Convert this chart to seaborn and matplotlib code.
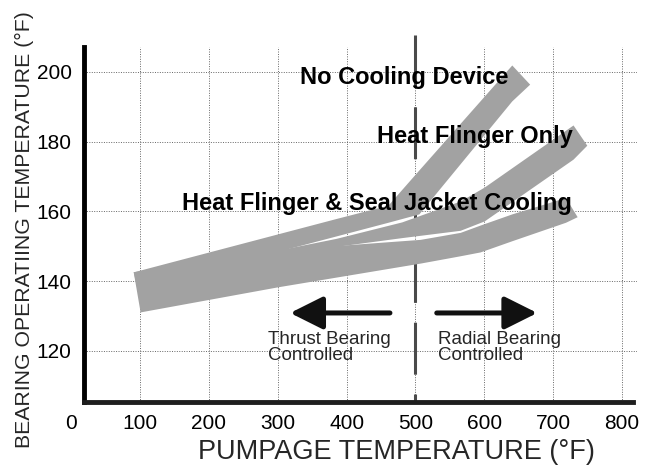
import numpy as np
import matplotlib.pyplot as plt
import seaborn as sns

# tick values
x_ticks = [0, 100, 200, 300, 400, 500, 600, 700, 800]
y_ticks = [120, 140, 160, 180, 200]

# band outlines: x, lower edge, upper edge (deg F)
no_cooling_x = [90, 100, 385, 460, 505, 640, 666]
no_cooling_lo = [142.7, 138.2, 153.0, 156.9, 159.3, 191.7, 196.5]
no_cooling_hi = [142.7, 143.2, 158.0, 161.8, 171.9, 202.0, 196.5]

flinger_x = [90, 100, 385, 480, 565, 600, 729, 749]
flinger_lo = [142.7, 134.0, 150.0, 152.5, 154.6, 157.3, 175.0, 179.0]
flinger_hi = [142.7, 141.0, 152.3, 157.0, 163.0, 167.0, 184.8, 179.0]

jacket_x = [90, 100, 300, 507, 565, 594, 640, 718, 735]
jacket_lo = [142.7, 131.2, 138.4, 145.2, 147.3, 148.4, 151.6, 156.9, 158.5]
jacket_hi = [142.7, 143.0, 149.0, 152.0, 154.0, 156.1, 159.3, 164.0, 158.5]

bands = [
    (no_cooling_x, no_cooling_lo, no_cooling_hi),
    (flinger_x, flinger_lo, flinger_hi),
    (jacket_x, jacket_lo, jacket_hi),
]

labels = ["No Cooling Device", "Heat Flinger Only", "Heat Flinger & Seal Jacket Cooling"]
label_x = [332, 444, 161]
label_y = [198.5, 181.4, 162.4]

divider_x = 500
thrust_arrow = (463, 318)
radial_arrow = (531, 677)
arrow_y = 130.9

sns.set_style("white")
plt.rcParams["font.family"] = ["Liberation Sans", "DejaVu Sans"]

fig = plt.figure(figsize=(6.56, 4.71), dpi=100)
ax = fig.add_axes([0.1034, 0.1467, 0.8677, 0.782])

x_lo, x_hi = -5, 822
y_lo, y_hi = 105.4, 211
spine_x = 18.6
ax.set_xlim(x_lo, x_hi)
ax.set_ylim(y_lo, y_hi)

# dotted grid, drawn by hand so it stops where the frame stops
ax.hlines(y_ticks, spine_x, x_hi, colors="#666666", linestyles=(0, (1, 1.5)), lw=0.7, zorder=1)
ax.vlines([t for t in x_ticks if t > 0], y_lo, 207.1, colors="#666666",
          linestyles=(0, (1, 1.5)), lw=0.7, zorder=1)

# thrust/radial divider
ax.plot([divider_x, divider_x], [210.6, y_lo], color="#4a4a4a", lw=2.2,
        linestyle=(0, (17, 6.5)), zorder=2)

for bx, lo, hi in bands:
    ax.fill_between(bx, lo, hi, color="#a2a2a2", lw=0, zorder=3)

for txt, tx, ty in zip(labels, label_x, label_y):
    ax.text(tx, ty, txt, fontsize=17, fontweight="bold", ha="left", va="center",
            color="black", zorder=5)

# direction arrows
arrow_kw = dict(arrowstyle="-|>,head_length=0.5,head_width=0.25", color="#111111",
                lw=3.6, mutation_scale=40, shrinkA=0, shrinkB=0)
ax.annotate("", xy=(thrust_arrow[1], arrow_y), xytext=(thrust_arrow[0], arrow_y),
            arrowprops=arrow_kw, zorder=4)
ax.annotate("", xy=(radial_arrow[1], arrow_y), xytext=(radial_arrow[0], arrow_y),
            arrowprops=arrow_kw, zorder=4)
ax.text(286, 121, "Thrust Bearing\nControlled", fontsize=13.5, ha="left", va="center",
        linespacing=0.95, zorder=5)
ax.text(533, 121, "Radial Bearing\nControlled", fontsize=13.5, ha="left", va="center",
        linespacing=0.95, zorder=5)

# axes frame
for side in ["top", "right"]:
    ax.spines[side].set_visible(False)
ax.spines["left"].set_position(("data", spine_x))
ax.spines["left"].set_bounds(y_lo, 207.1)
ax.spines["bottom"].set_bounds(spine_x, 816)
ax.spines["left"].set_linewidth(3.5)
ax.spines["bottom"].set_linewidth(3.5)
ax.spines["left"].set_color("black")
ax.spines["bottom"].set_color("#1e1e1e")

ax.set_xticks(x_ticks)
ax.set_yticks(y_ticks)
ax.tick_params(axis="both", length=0, labelsize=15, colors="black")
ax.tick_params(axis="y", pad=9)
ax.tick_params(axis="x", pad=9)

ax.set_xlabel("PUMPAGE TEMPERATURE (°F)", fontsize=19.5)
ax.set_ylabel("BEARING OPERATIING TEMPERATURE (°F)", fontsize=15.3)
ax.xaxis.label.set_va("center")
ax.yaxis.label.set_va("center")
ax.xaxis.set_label_coords(0.5766, -0.136)
ax.yaxis.set_label_coords(-0.077, 0.4667)

fig.savefig("out.png", dpi=100)
